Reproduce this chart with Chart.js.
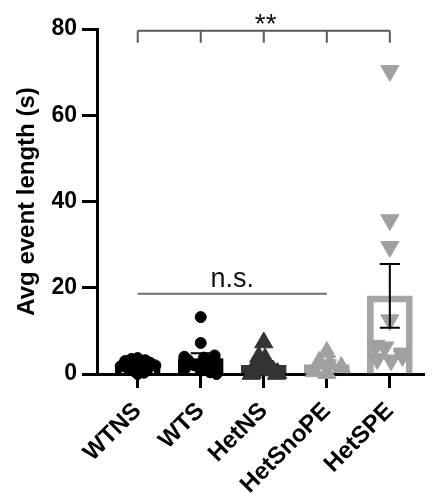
<!DOCTYPE html>
<html>
<head>
<meta charset="utf-8">
<script src="https://cdn.jsdelivr.net/npm/chart.js@4"></script>
<style>
html, body { margin: 0; padding: 0; background: #fff; }
#wrap { width: 436px; height: 497px; }
</style>
</head>
<body>
<div id="wrap"><canvas id="chart" width="436" height="497"></canvas></div>
<script>
// groups and summary values (mean +/- SEM)
const groups = ["WTNS", "WTS", "HetNS", "HetSnoPE", "HetSPE"];
const means = [2.0, 3.6, 2.0, 2.2, 18.1];
const sems = [0.3, 1.2, 0.8, 1.0, 7.4];
const yTicks = [0, 20, 40, 60, 80];

// individual points, value + horizontal jitter inside the group
const wtnsVals = [3.7, 3.5, 3.2, 3.0, 2.6, 2.4, 2.0, 1.8, 1.5, 1.2, 1.0, 0.6, 0.3, 0.0];
const wtnsX = [0.0, -0.1, 0.12, -0.2, 0.2, -0.05, 0.28, -0.27, 0.08, -0.15, 0.15, -0.05, 0.1, 0.0];
const wtsVals = [13.2, 7.2, 4.3, 4.0, 3.8, 3.2, 2.8, 2.4, 2.0, 1.6, 1.2, 0.8, 0.4, 0.0];
const wtsX = [0.0, 0.0, 0.22, -0.26, 0.05, -0.2, 0.25, 0.1, -0.1, 0.2, -0.25, 0.0, 0.15, 0.25];
const hetnsVals = [7.3, 4.0, 3.6, 2.4, 2.0, 1.0, 0.8, 0.3, 0.2, 0.0, 0.0];
const hetnsX = [0.0, -0.08, 0.02, -0.12, 0.05, -0.05, 0.15, -0.18, 0.22, -0.2, 0.2];
const hetsnopeVals = [5.1, 2.8, 2.4, 1.6, 0.6, 0.2];
const hetsnopeX = [0.0, -0.12, 0.05, 0.23, -0.2, 0.0];
const hetspeVals = [70.3, 35.7, 29.5, 12.5, 6.6, 6.2, 4.8, 4.2, 3.5, 3.2];
const hetspeX = [0.0, 0.0, 0.0, 0.0, -0.22, -0.08, 0.2, 0.2, -0.2, 0.02];

const errColors = ["#000", "#000", "#333", "#a0a0a0", "#000"];

Chart.defaults.font.family = "'Liberation Sans', Arial, sans-serif";
Chart.defaults.color = "#000";

function pts(vals, offs, g) {
  return vals.map((v, i) => ({ x: g + offs[i], y: v }));
}

// error bars + significance marks
const extras = {
  id: "extras",
  afterDatasetsDraw(chart) {
    const { ctx } = chart;
    const x = chart.scales.x, y = chart.scales.y;
    ctx.save();
    ctx.lineWidth = 2;
    means.forEach((m, i) => {
      const px = x.getPixelForValue(i);
      const top = y.getPixelForValue(m + sems[i]);
      const bot = y.getPixelForValue(m - sems[i]);
      ctx.strokeStyle = errColors[i];
      ctx.beginPath();
      ctx.moveTo(px, top); ctx.lineTo(px, bot);
      ctx.moveTo(px - 10, top); ctx.lineTo(px + 10, top);
      ctx.moveTo(px - 10, bot); ctx.lineTo(px + 10, bot);
      ctx.stroke();
    });

    // ** bracket across all groups
    const by = y.getPixelForValue(79.6);
    const bdrop = y.getPixelForValue(76.8);
    ctx.strokeStyle = "#5a5a5a";
    ctx.lineWidth = 2;
    ctx.beginPath();
    ctx.moveTo(x.getPixelForValue(0), by);
    ctx.lineTo(x.getPixelForValue(4), by);
    groups.forEach((g, i) => {
      ctx.moveTo(x.getPixelForValue(i), by);
      ctx.lineTo(x.getPixelForValue(i), bdrop);
    });
    ctx.stroke();
    ctx.fillStyle = "#111";
    ctx.font = "28px 'Liberation Sans', Arial";
    ctx.textAlign = "center";
    ctx.textBaseline = "alphabetic";
    ctx.fillText("**", x.getPixelForValue(2.03), by + 2);

    // n.s. line over first four groups
    const ny = y.getPixelForValue(18.6);
    ctx.strokeStyle = "#6e6e6e";
    ctx.beginPath();
    ctx.moveTo(x.getPixelForValue(0), ny);
    ctx.lineTo(x.getPixelForValue(3), ny);
    ctx.stroke();
    ctx.font = "27px 'Liberation Sans', Arial";
    ctx.fillText("n.s.", x.getPixelForValue(1.5), ny - 7);
    ctx.restore();
  }
};

new Chart(document.getElementById("chart"), {
  type: "bar",
  data: {
    datasets: [
      {
        type: "bar",
        data: means.map((m, i) => ({ x: i, y: m })),
        backgroundColor: "rgba(255,255,255,0)",
        borderColor: ["#000", "#000", "#333", "#a0a0a0", "#a6a6a6"],
        borderWidth: 6,
        borderSkipped: "start",
        barThickness: 45,
        order: 3
      },
      {
        type: "scatter", data: pts(wtnsVals, wtnsX, 0),
        pointStyle: "circle", pointRadius: 5.5,
        backgroundColor: "#000", borderColor: "#000", borderWidth: 1,
        clip: false, order: 2
      },
      {
        type: "scatter", data: pts(wtsVals, wtsX, 1),
        pointStyle: "circle", pointRadius: 5.5,
        backgroundColor: "#000", borderColor: "#000", borderWidth: 1,
        clip: false, order: 2
      },
      {
        type: "scatter", data: pts(hetnsVals, hetnsX, 2),
        pointStyle: "triangle", pointRadius: 10.5,
        backgroundColor: "#333", borderColor: "#333", borderWidth: 1,
        clip: false, order: 2
      },
      {
        type: "scatter", data: pts(hetsnopeVals, hetsnopeX, 3),
        pointStyle: "triangle", pointRadius: 10.5,
        backgroundColor: "#a0a0a0", borderColor: "#a0a0a0", borderWidth: 1,
        clip: false, order: 2
      },
      {
        type: "scatter", data: pts(hetspeVals, hetspeX, 4),
        pointStyle: "triangle", rotation: 180, pointRadius: 10.5,
        backgroundColor: "#a0a0a0", borderColor: "#a0a0a0", borderWidth: 1,
        clip: false, order: 2
      }
    ]
  },
  options: {
    responsive: false,
    animation: false,
    layout: { padding: { top: 29, left: 13, right: 1, bottom: 0 } },
    plugins: { legend: { display: false }, tooltip: { enabled: false } },
    scales: {
      x: {
        type: "linear",
        min: -0.646,
        max: 4.55,
        offset: false,
        afterBuildTicks: s => { s.ticks = groups.map((g, i) => ({ value: i })); },
        ticks: {
          autoSkip: false,
          minRotation: 45,
          maxRotation: 45,
          padding: 9,
          font: { size: 24, weight: "bold" },
          color: "#000",
          callback: v => groups[v]
        },
        grid: { offset: false, drawOnChartArea: false, tickLength: 14, tickWidth: 3, tickColor: "#000" },
        border: { display: true, width: 3, color: "#000" },
        afterFit: s => { s.height = 123; s.paddingLeft = 0; s.paddingRight = 0; }
      },
      y: {
        min: 0,
        max: 80,
        afterBuildTicks: s => { s.ticks = yTicks.map(v => ({ value: v })); },
        ticks: { padding: 5, font: { size: 23, weight: "bold" }, color: "#000" },
        grid: { drawOnChartArea: false, tickLength: 15, tickWidth: 3, tickColor: "#000" },
        border: { display: true, width: 3, color: "#000" },
        title: {
          display: true,
          text: "Avg event length (s)",
          font: { size: 24, weight: "bold" },
          color: "#000",
          padding: 0
        },
        afterFit: s => { s.width = 84; s.paddingTop = 0; s.paddingBottom = 0; }
      }
    }
  },
  plugins: [extras]
});
</script>
</body>
</html>
